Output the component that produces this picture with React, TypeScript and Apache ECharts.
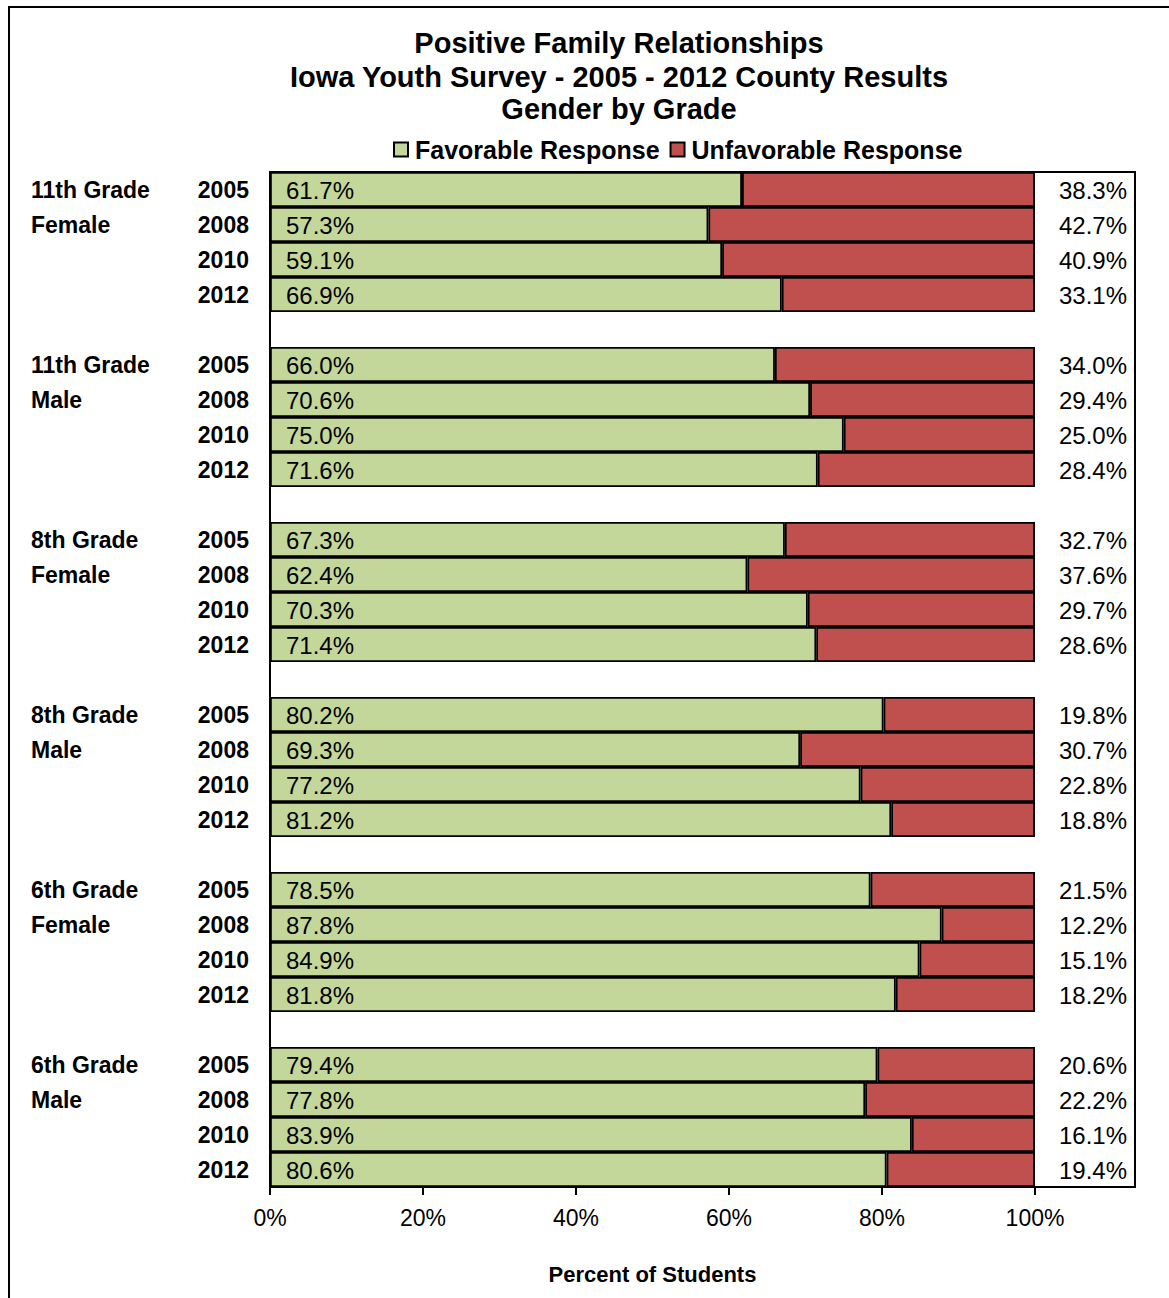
import React, { useEffect, useRef } from "react";
import * as echarts from "echarts";

const groupNames: string[][] = [
  ["11th Grade", "Female"],
  ["11th Grade", "Male"],
  ["8th Grade", "Female"],
  ["8th Grade", "Male"],
  ["6th Grade", "Female"],
  ["6th Grade", "Male"],
];
const years: string[] = ["2005", "2008", "2010", "2012"];

const favorable: number[][] = [
  [61.7, 57.3, 59.1, 66.9],
  [66.0, 70.6, 75.0, 71.6],
  [67.3, 62.4, 70.3, 71.4],
  [80.2, 69.3, 77.2, 81.2],
  [78.5, 87.8, 84.9, 81.8],
  [79.4, 77.8, 83.9, 80.6],
];
const unfavorable: number[][] = [
  [38.3, 42.7, 40.9, 33.1],
  [34.0, 29.4, 25.0, 28.4],
  [32.7, 37.6, 29.7, 28.6],
  [19.8, 30.7, 22.8, 18.8],
  [21.5, 12.2, 15.1, 18.2],
  [20.6, 22.2, 16.1, 19.4],
];
const xTicks: number[] = [0, 20, 40, 60, 80, 100];

const FONT = "'Liberation Sans', Arial, sans-serif";

export default function App() {
  const ref = useRef<HTMLDivElement>(null);
  useEffect(() => {
    if (!ref.current) return;
    const chart = echarts.init(ref.current, undefined, { renderer: "svg" });

    const categories: string[] = [];
    const favData: (number | string)[] = [];
    const unfavData: (number | string)[] = [];
    groupNames.forEach((g, gi) => {
      years.forEach((y, yi) => {
        categories.push(`${gi}|${yi}|${y}`);
        favData.push(favorable[gi][yi]);
        unfavData.push(unfavorable[gi][yi]);
      });
      if (gi < groupNames.length - 1) {
        categories.push(`gap${gi}`);
        favData.push("-");
        unfavData.push("-");
      }
    });

    const option: any = {
      animation: false,
      textStyle: { fontFamily: FONT },
      grid: { left: 270, right: 134, top: 172, bottom: 111 },
      legend: {
        left: 393,
        top: 137,
        padding: 0,
        itemWidth: 14,
        itemHeight: 14,
        itemGap: 10,
        icon: "rect",
        textStyle: { fontFamily: FONT, fontSize: 25, fontWeight: "bold", color: "#000", padding: [0, 0, 0, 2] },
        data: ["Favorable Response", "Unfavorable Response"],
      },
      xAxis: {
        type: "value",
        min: 0,
        max: 100,
        interval: 20,
        axisLabel: {
          formatter: (v: number) => (xTicks.includes(v) ? `${v}%` : ""),
          fontSize: 23,
          color: "#000",
          margin: 19,
          fontFamily: FONT,
        },
        axisLine: { show: true, lineStyle: { color: "#000", width: 2 } },
        axisTick: { show: true, length: 8, lineStyle: { color: "#000", width: 2 } },
        splitLine: { show: false },
        name: "Percent of Students",
        nameLocation: "middle",
        nameGap: 76,
        nameTextStyle: { fontSize: 22, fontWeight: "bold", color: "#000", fontFamily: FONT },
      },
      yAxis: {
        type: "category",
        inverse: true,
        data: categories,
        axisLine: { show: true, lineStyle: { color: "#000", width: 2 } },
        axisTick: { show: false },
        axisLabel: {
          margin: 21,
          interval: 0,
          formatter: (v: string) => {
            if (v.startsWith("gap")) return "";
            const [gi, yi, y] = v.split("|");
            const line = Number(yi);
            const gname = line < 2 ? groupNames[Number(gi)][line] : "";
            if (gname) return `{g|${gname}}{y|${y}}`;
            return `{y|${y}}`;
          },
          rich: {
            g: { width: 162, align: "left", fontSize: 23, fontWeight: "bold", color: "#000", fontFamily: FONT },
            y: { width: 56, align: "right", fontSize: 23, fontWeight: "bold", color: "#000", fontFamily: FONT },
          },
        },
      },
      series: [
        {
          name: "Favorable Response",
          type: "bar",
          stack: "total",
          barCategoryGap: 0,
          data: favData,
          itemStyle: { color: "#C4D79B", borderColor: "#000", borderWidth: 1.8 },
          label: {
            show: true,
            position: "insideLeft",
            distance: 16,
            offset: [0, 1],
            formatter: (p: any) => `${Number(p.value).toFixed(1)}%`,
            fontSize: 24,
            color: "#000",
            fontFamily: FONT,
          },
        },
        {
          name: "Unfavorable Response",
          type: "bar",
          stack: "total",
          barCategoryGap: 0,
          data: unfavData,
          itemStyle: { color: "#C0504D", borderColor: "#000", borderWidth: 1.8 },
          label: {
            show: true,
            position: "insideRight",
            distance: 0,
            offset: [92, 1],
            formatter: (p: any) => `${Number(p.value).toFixed(1)}%`,
            fontSize: 24,
            color: "#000",
            fontFamily: FONT,
          },
        },
      ],
      graphic: [
        {
          type: "rect",
          shape: { x: 9, y: 7, width: 1200, height: 1320 },
          style: { fill: "none", stroke: "#000", lineWidth: 2 },
          silent: true,
          z: 0,
        },
        {
          type: "rect",
          shape: { x: 270, y: 172, width: 865, height: 1015 },
          style: { fill: "none", stroke: "#000", lineWidth: 2 },
          silent: true,
          z: 10,
        },
        {
          type: "text",
          x: 619,
          y: 43,
          style: { text: "Positive Family Relationships", font: `bold 29px ${FONT}`, fill: "#000", textAlign: "center", textVerticalAlign: "middle" },
        },
        {
          type: "text",
          x: 619,
          y: 77,
          style: { text: "Iowa Youth Survey - 2005 - 2012 County Results", font: `bold 29px ${FONT}`, fill: "#000", textAlign: "center", textVerticalAlign: "middle" },
        },
        {
          type: "text",
          x: 619,
          y: 109,
          style: { text: "Gender by Grade", font: `bold 29px ${FONT}`, fill: "#000", textAlign: "center", textVerticalAlign: "middle" },
        },
      ],
    };
    chart.setOption(option);
    return () => chart.dispose();
  }, []);
  return (
    <div
      ref={ref}
      style={{ position: "absolute", left: 0, top: 0, width: 1169, height: 1298, background: "#fff" }}
    />
  );
}
